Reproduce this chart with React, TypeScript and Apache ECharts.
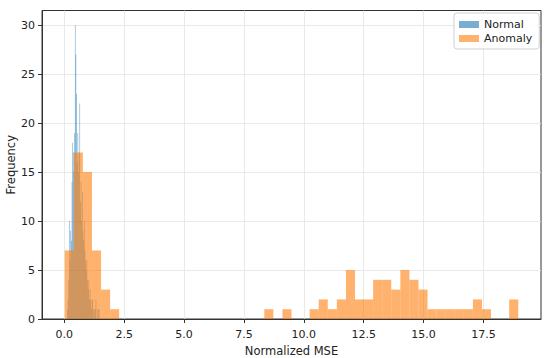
import React, { useEffect, useRef } from "react";
import * as echarts from "echarts";

const normalRange = [0.12, 1.47];
const normalCounts = [
  1, 2, 4, 10, 6, 9, 8, 14, 18, 17,
  15, 19, 30, 27, 23, 16, 19, 15, 17, 22,
  12, 14, 10, 13, 9, 8, 10, 7, 6, 5,
  6, 4, 3, 4, 2, 3, 2, 1, 2, 2,
  1, 0, 1, 1, 2, 0, 1, 0, 1, 1,
];

const anomalyRange = [0.02, 18.95];
const anomalyCounts = [
  7, 17, 15, 7, 3, 1, 0, 0, 0, 0,
  0, 0, 0, 0, 0, 0, 0, 0, 0, 0,
  0, 0, 1, 0, 1, 0, 0, 1, 2, 1,
  2, 5, 2, 2, 4, 4, 3, 5, 4, 3,
  1, 1, 1, 1, 1, 2, 1, 0, 0, 2,
];

const xTicks = [0, 2.5, 5, 7.5, 10, 12.5, 15, 17.5];
const yTicks = [0, 5, 10, 15, 20, 25, 30];
const xLimits = [-0.93, 19.9];
const yLimits = [0, 31.5];

const seriesNames = ["Normal", "Anomaly"];
const seriesColors = ["rgba(31,119,180,0.6)", "rgba(255,127,14,0.6)"];

function toBins(range: number[], counts: number[]) {
  const w = (range[1] - range[0]) / counts.length;
  const out: number[][] = [];
  counts.forEach((c, i) => {
    if (c > 0) out.push([range[0] + i * w, range[0] + (i + 1) * w, c]);
  });
  return out;
}

function histSeries(name: string, color: string, data: number[][]) {
  return {
    type: "custom",
    name,
    itemStyle: { color },
    encode: { x: [0, 1], y: 2 },
    data,
    renderItem: (params: any, api: any) => {
      const p0 = api.coord([api.value(0), 0]);
      const p1 = api.coord([api.value(1), api.value(2)]);
      return {
        type: "rect",
        shape: { x: p0[0], y: p1[1], width: p1[0] - p0[0], height: p0[1] - p1[1] },
        style: { fill: color },
      };
    },
  };
}

export default function App() {
  const ref = useRef<HTMLDivElement>(null);
  useEffect(() => {
    if (!ref.current) return;
    const chart = echarts.init(ref.current, undefined, { renderer: "svg" });
    const font = "DejaVu Sans";
    const textColor = "#222";
    chart.setOption({
      animation: false,
      backgroundColor: "#fff",
      textStyle: { fontFamily: font },
      grid: {
        left: 42,
        right: 9,
        top: 10.5,
        bottom: 39,
        show: true,
        borderColor: "#333",
        borderWidth: 1,
        backgroundColor: "transparent",
        outerBoundsMode: "none",
        containLabel: false,
      },
      legend: {
        orient: "vertical",
        left: 454,
        top: 13,
        padding: [5, 7, 4, 5],
        itemGap: 1,
        itemWidth: 20,
        itemHeight: 7,
        icon: "rect",
        borderColor: "#d0d0d0",
        borderWidth: 1,
        borderRadius: 3,
        backgroundColor: "rgba(255,255,255,0.8)",
        textStyle: { fontFamily: font, fontSize: 11, color: textColor, lineHeight: 13 },
        data: seriesNames,
      },
      xAxis: {
        type: "value",
        min: xLimits[0],
        max: xLimits[1],
        name: "Normalized MSE",
        nameLocation: "middle",
        nameGap: 25.5,
        nameMoveOverlap: false,
        nameTextStyle: { fontFamily: font, fontSize: 11.5, color: textColor },
        axisLine: { show: true, onZero: false, lineStyle: { color: "#333", width: 1 } },
        axisTick: { show: true, length: 4, lineStyle: { color: "#333" }, customValues: xTicks },
        axisLabel: {
          fontFamily: font,
          fontSize: 11,
          color: textColor,
          margin: 10,
          customValues: xTicks,
          formatter: (v: number) => v.toFixed(1),
        },
        splitLine: { show: true, lineStyle: { color: "#e3e3e3", width: 0.8 } },
      },
      yAxis: {
        type: "value",
        min: yLimits[0],
        max: yLimits[1],
        name: "Frequency",
        nameLocation: "middle",
        nameGap: 25,
        nameMoveOverlap: false,
        nameTextStyle: { fontFamily: font, fontSize: 11.5, color: textColor },
        axisLine: { show: true, onZero: false, lineStyle: { color: "#333", width: 1 } },
        axisTick: { show: true, length: 4, lineStyle: { color: "#333" }, customValues: yTicks },
        axisLabel: {
          fontFamily: font,
          fontSize: 11,
          color: textColor,
          margin: 7,
          customValues: yTicks,
        },
        splitLine: { show: true, lineStyle: { color: "#e3e3e3", width: 0.8 } },
      },
      series: [
        histSeries(seriesNames[0], seriesColors[0], toBins(normalRange, normalCounts)),
        histSeries(seriesNames[1], seriesColors[1], toBins(anomalyRange, anomalyCounts)),
      ],
    });
    return () => chart.dispose();
  }, []);
  return <div ref={ref} style={{ width: 550, height: 358, position: "absolute", left: 0, top: 0 }} />;
}
